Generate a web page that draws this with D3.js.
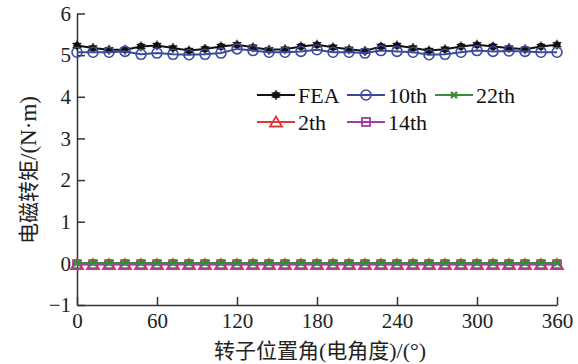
<!DOCTYPE html>
<html>
<head>
<meta charset="utf-8">
<script src="https://cdn.jsdelivr.net/npm/d3@7"></script>
<style>
body { margin: 0; background: #fff; }
</style>
</head>
<body>
<div id="container"></div>
<script>
// rotor angle, every 12 degrees
var angles = [0, 12, 24, 36, 48, 60, 72, 84, 96, 108, 120, 132, 144, 156, 168, 180,
	192, 204, 216, 228, 240, 252, 264, 276, 288, 300, 312, 324, 336, 348, 360];

var fea = [5.23, 5.17, 5.13, 5.13, 5.21, 5.23, 5.17, 5.11, 5.15, 5.21, 5.25, 5.19, 5.13, 5.14, 5.21, 5.25,
	5.19, 5.14, 5.10, 5.21, 5.23, 5.17, 5.11, 5.14, 5.21, 5.25, 5.21, 5.17, 5.14, 5.21, 5.25];
var h10 = [5.07, 5.07, 5.07, 5.09, 5.02, 5.05, 5.02, 5.01, 5.02, 5.05, 5.15, 5.11, 5.07, 5.07, 5.09, 5.13,
	5.07, 5.07, 5.05, 5.11, 5.09, 5.07, 5.01, 5.02, 5.07, 5.11, 5.09, 5.10, 5.09, 5.07, 5.07];
var h2 = [-0.03, -0.03, -0.03, -0.03, -0.03, -0.03, -0.03, -0.03, -0.03, -0.03, -0.03, -0.03, -0.03, -0.03, -0.03, -0.03,
	-0.03, -0.03, -0.03, -0.03, -0.03, -0.03, -0.03, -0.03, -0.03, -0.03, -0.03, -0.03, -0.03, -0.03, -0.03];
var h14 = [-0.02, -0.02, -0.02, -0.02, -0.02, -0.02, -0.02, -0.02, -0.02, -0.02, -0.02, -0.02, -0.02, -0.02, -0.02, -0.02,
	-0.02, -0.02, -0.02, -0.02, -0.02, -0.02, -0.02, -0.02, -0.02, -0.02, -0.02, -0.02, -0.02, -0.02, -0.02];
var h22 = [0.01, 0.01, 0.01, 0.01, 0.01, 0.01, 0.01, 0.01, 0.01, 0.01, 0.01, 0.01, 0.01, 0.01, 0.01, 0.01,
	0.01, 0.01, 0.01, 0.01, 0.01, 0.01, 0.01, 0.01, 0.01, 0.01, 0.01, 0.01, 0.01, 0.01, 0.01];

var xTicks = [0, 60, 120, 180, 240, 300, 360];
var yTicks = [-1, 0, 1, 2, 3, 4, 5, 6];

// draw order matters: zero-line series first, then 10th over FEA
var series = [
	{ name: "2th", values: h2, color: "#e0393a", marker: "triangle" },
	{ name: "14th", values: h14, color: "#a23d9c", marker: "square" },
	{ name: "22th", values: h22, color: "#3d8a3a", marker: "cross" },
	{ name: "FEA", values: fea, color: "#111", marker: "dot" },
	{ name: "10th", values: h10, color: "#3c4a9c", marker: "circle" }
];

(function()
{
	var width = 578, height = 364;
	var left = 77, right = 557, top = 13.5, bottom = 305;
	var svg = d3.select("#container").append("svg")
		.attr("width", width)
		.attr("height", height);

	var x = d3.scaleLinear().domain([0, 360]).range([left, right]);
	var y = d3.scaleLinear().domain([-1, 6]).range([bottom, top]);

	var serif = "'Liberation Serif', 'Times New Roman', serif";
	var cjk = "'Noto Sans CJK SC', sans-serif";

	// axes, ticks point inward
	var xAxis = svg.append("g")
		.attr("transform", "translate(0," + bottom + ")")
		.call(d3.axisBottom(x).tickValues(xTicks).tickSizeInner(-8).tickSizeOuter(0).tickPadding(14));
	var yAxis = svg.append("g")
		.attr("transform", "translate(" + left + ",0)")
		.call(d3.axisLeft(y).tickValues(yTicks).tickSizeInner(-8).tickSizeOuter(0).tickPadding(6)
			.tickFormat(function(d){ return d < 0 ? "\u2212" + (-d) : d; }));
	[xAxis, yAxis].forEach(function(a)
	{
		a.select(".domain").attr("stroke", "#333").attr("stroke-width", 1.5);
		a.selectAll(".tick line").attr("stroke", "#333").attr("stroke-width", 1.5);
		a.selectAll(".tick text").attr("fill", "#222")
			.style("font-family", serif).style("font-size", "21px");
	});
	xAxis.selectAll(".tick text").attr("dy", "0.71em").attr("y", 8);

	// markers
	function drawMarker(g, type, color, cx, cy)
	{
		if (type == "dot")
		{
			g.append("circle").attr("cx", cx).attr("cy", cy).attr("r", 3.6).attr("fill", color);
			g.append("path")
				.attr("d", d3.symbol().type(d3.symbolAsterisk).size(70)())
				.attr("transform", "translate(" + cx + "," + cy + ")")
				.attr("stroke", color).attr("stroke-width", 1.2);
		}
		else if (type == "circle")
		{
			g.append("circle").attr("cx", cx).attr("cy", cy).attr("r", 5)
				.attr("fill", "none").attr("stroke", color).attr("stroke-width", 1.6);
		}
		else if (type == "square")
		{
			g.append("rect").attr("x", cx - 4).attr("y", cy - 4).attr("width", 8).attr("height", 8)
				.attr("fill", "none").attr("stroke", color).attr("stroke-width", 1.8);
		}
		else if (type == "triangle")
		{
			g.append("path")
				.attr("d", "M" + cx + "," + (cy - 5.5) + "L" + (cx + 6) + "," + (cy + 4.5) + "L" + (cx - 6) + "," + (cy + 4.5) + "Z")
				.attr("fill", "none").attr("stroke", color).attr("stroke-width", 1.8);
		}
		else if (type == "cross")
		{
			g.append("path")
				.attr("d", "M" + (cx - 3) + "," + (cy - 3) + "L" + (cx + 3) + "," + (cy + 3) + "M" + (cx + 3) + "," + (cy - 3) + "L" + (cx - 3) + "," + (cy + 3))
				.attr("stroke", color).attr("stroke-width", 2.4);
		}
	}

	var line = d3.line()
		.x(function(d){ return x(d[0]); })
		.y(function(d){ return y(d[1]); });

	series.forEach(function(s)
	{
		var pts = angles.map(function(a, i){ return [a, s.values[i]]; });
		var g = svg.append("g");
		g.append("path").datum(pts)
			.attr("d", line)
			.attr("fill", "none")
			.attr("stroke", s.color)
			.attr("stroke-width", 2);
		pts.forEach(function(p){ drawMarker(g, s.marker, s.color, x(p[0]), y(p[1])); });
	});

	// legend
	var legendItems = [
		{ s: "FEA", lx: 257, ly: 95 },
		{ s: "10th", lx: 347, ly: 95 },
		{ s: "22th", lx: 435, ly: 95 },
		{ s: "2th", lx: 257, ly: 122 },
		{ s: "14th", lx: 347, ly: 122 }
	];
	var legend = svg.append("g");
	legendItems.forEach(function(it)
	{
		var s = series.filter(function(d){ return d.name == it.s; })[0];
		legend.append("line")
			.attr("x1", it.lx).attr("x2", it.lx + 38)
			.attr("y1", it.ly).attr("y2", it.ly)
			.attr("stroke", s.color).attr("stroke-width", 2);
		drawMarker(legend, s.marker, s.color, it.lx + 19, it.ly);
		legend.append("text")
			.attr("x", it.lx + 41)
			.attr("y", it.ly + 7.5)
			.style("font-family", serif)
			.style("font-size", "22px")
			.attr("fill", "#111")
			.text(it.s);
	});

	// axis titles
	var xt = svg.append("text")
		.attr("x", (left + right) / 2 + 3)
		.attr("y", 358)
		.attr("text-anchor", "middle")
		.style("font-family", cjk)
		.style("font-size", "21px")
		.attr("fill", "#222");
	xt.append("tspan").text("转子位置角");
	xt.append("tspan").style("font-family", serif).style("font-size", "22px").text("(");
	xt.append("tspan").text("电角度");
	xt.append("tspan").style("font-family", serif).style("font-size", "22px").text(")/(°)");

	var yt = svg.append("text")
		.attr("transform", "translate(36,170) rotate(-90)")
		.attr("text-anchor", "middle")
		.style("font-family", cjk)
		.style("font-size", "21px")
		.attr("fill", "#222");
	yt.append("tspan").text("电磁转矩");
	yt.append("tspan").style("font-family", serif).style("font-size", "23px").text("/(N\u00b7m)");
})();
</script>
</body>
</html>
